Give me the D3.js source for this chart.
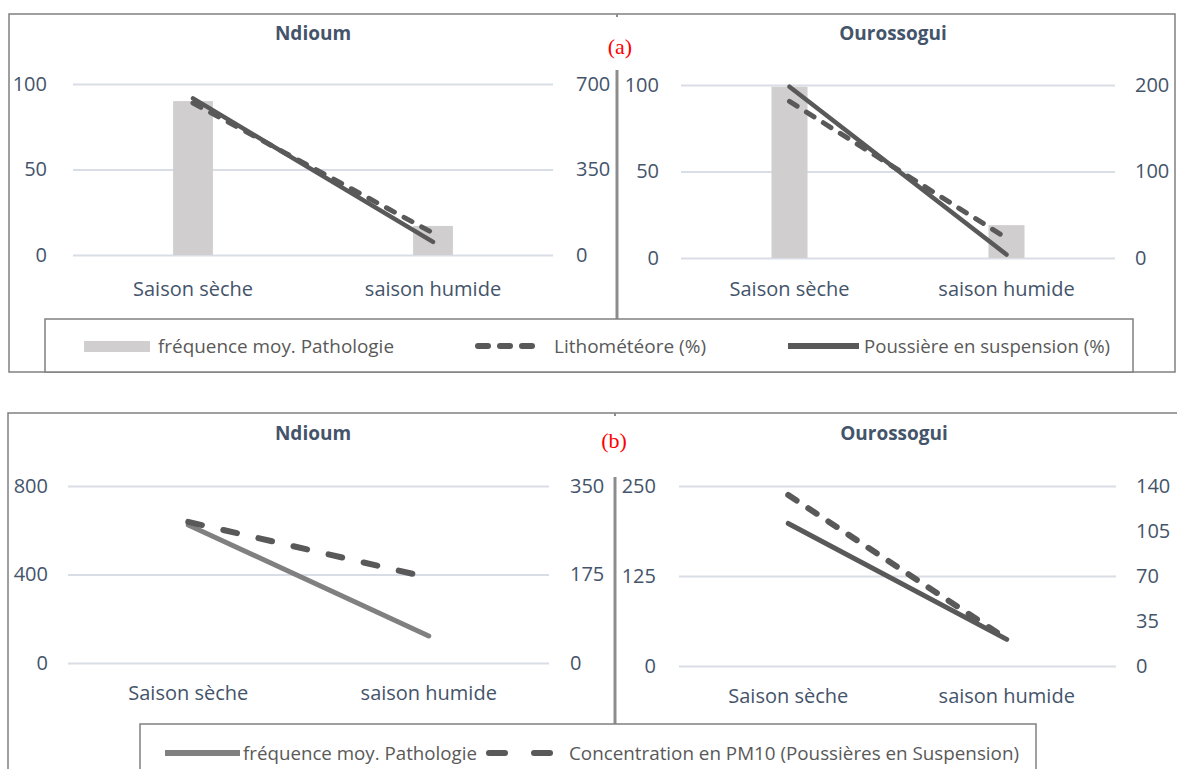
<!DOCTYPE html>
<html>
<head>
<meta charset="utf-8">
<script src="https://cdn.jsdelivr.net/npm/d3@7"></script>
<style>
  html, body { margin: 0; padding: 0; background: #fff; }
  svg { display: block; font-family: "Open Sans", sans-serif; }
</style>
</head>
<body>
<svg id="fig" width="1177" height="769"></svg>
<script>
// ---- data ----
const categories = ["Saison sèche", "saison humide"];

// (a) pathology frequency (bars, left axis) and dust indicators (lines, right axis)
const ndioumPathoA = [90, 17];
const ndioumLithoA = [622, 90];
const ndioumPoussA = [641, 54];
const ouroPathoA = [99, 19];
const ouroLithoA = [181, 23];
const ouroPoussA = [198, 4];

// (b) pathology frequency (left axis) and PM10 concentration (right axis)
const ndioumPathoB = [624, 122];
const ndioumPM10B = [279, 169];
const ouroPathoB = [198, 37];
const ouroPM10B = [133, 21];

// axis ticks
const ndioumLeftTicksA = [0, 50, 100];
const ndioumRightTicksA = [0, 350, 700];
const ouroLeftTicksA = [0, 50, 100];
const ouroRightTicksA = [0, 100, 200];
const ndioumLeftTicksB = [0, 400, 800];
const ndioumRightTicksB = [0, 175, 350];
const ouroLeftTicksB = [0, 125, 250];
const ouroRightTicksB = [0, 35, 70, 105, 140];

const titles = ["Ndioum", "Ourossogui"];
const legendA = ["fréquence moy. Pathologie", "Lithométéore (%)", "Poussière en suspension (%)"];
const legendB = ["fréquence moy. Pathologie", "Concentration en PM10 (Poussières en Suspension)"];

// ---- styles ----
const textColor = "#44546A";
const legendColor = "#595959";
const gridColor = "#D9DEE6";
const barColor = "#D0CECE";
const darkLine = "#595959";
const midLine = "#808080";
const frameColor = "#808080";
const tickSize = 20;

const svg = d3.select("#fig");
svg.append("rect").attr("width", 1177).attr("height", 769).attr("fill", "#fff");

function drawChart(o) {
  const g = svg.append("g");
  const x = d3.scaleBand().domain(categories).range([o.x0, o.x1]);
  const cx = c => x(c) + x.bandwidth() / 2;
  const yL = d3.scaleLinear().domain([0, o.leftTicks[o.leftTicks.length - 1]]).range([o.yb, o.yt]);
  const yR = d3.scaleLinear().domain([0, o.rightTicks[o.rightTicks.length - 1]]).range([o.yb, o.yt]);

  // gridlines
  g.append("g")
    .attr("transform", `translate(${o.x0},0)`)
    .call(d3.axisLeft(yL).tickValues(o.leftTicks).tickSize(-(o.x1 - o.x0)).tickFormat(""))
    .call(s => s.select(".domain").remove())
    .selectAll("line").attr("stroke", gridColor).attr("stroke-width", 2);

  // left tick labels
  g.append("g")
    .attr("transform", `translate(${o.leftLabelX},0)`)
    .call(d3.axisLeft(yL).tickValues(o.leftTicks).tickSize(0).tickPadding(0))
    .call(s => s.select(".domain").remove())
    .attr("font-size", null).attr("font-family", null)
    .selectAll("text").attr("fill", textColor).attr("font-size", tickSize);

  // right tick labels
  g.append("g")
    .attr("transform", `translate(${o.rightLabelX},0)`)
    .call(d3.axisRight(yR).tickValues(o.rightTicks).tickSize(0).tickPadding(0))
    .call(s => s.select(".domain").remove())
    .attr("font-size", null).attr("font-family", null)
    .selectAll("text").attr("fill", textColor).attr("font-size", tickSize);

  // category labels
  g.append("g")
    .attr("transform", `translate(0,${o.catY})`)
    .call(d3.axisBottom(x).tickSize(0).tickPadding(0))
    .call(s => s.select(".domain").remove())
    .attr("font-size", null).attr("font-family", null)
    .selectAll("text").attr("fill", textColor).attr("font-size", tickSize).attr("dy", "0.32em");

  // title
  g.append("text")
    .attr("x", o.titleX).attr("y", o.titleY)
    .attr("text-anchor", "middle").attr("dy", "0.35em")
    .attr("font-weight", "bold").attr("font-size", 19)
    .attr("fill", textColor)
    .text(o.title);

  // bars
  if (o.bars) {
    const bw = x.bandwidth() * 0.166;
    g.selectAll("rect.bar").data(categories.map((c, i) => ({ c, v: o.bars[i] })))
      .join("rect").attr("class", "bar")
      .attr("x", d => cx(d.c) - bw / 2)
      .attr("width", bw)
      .attr("y", d => yL(d.v))
      .attr("height", d => yL(0) - yL(d.v))
      .attr("fill", barColor);
  }

  // lines
  o.lines.forEach(l => {
    const scale = l.axis === "left" ? yL : yR;
    const line = d3.line().x(d => cx(d.c)).y(d => scale(d.v));
    g.append("path")
      .datum(categories.map((c, i) => ({ c, v: l.values[i] })))
      .attr("d", line)
      .attr("fill", "none")
      .attr("stroke", l.color)
      .attr("stroke-width", l.width)
      .attr("stroke-linecap", "round")
      .attr("stroke-dasharray", l.dash || null);
  });
}

// ---- panel (a) ----
svg.append("rect").attr("x", 9).attr("y", 14).attr("width", 1166).attr("height", 358)
  .attr("fill", "none").attr("stroke", frameColor).attr("stroke-width", 1.5);
svg.append("line").attr("x1", 617).attr("x2", 617).attr("y1", 70).attr("y2", 319)
  .attr("stroke", "#8c8c8c").attr("stroke-width", 3);
svg.append("line").attr("x1", 617).attr("x2", 617).attr("y1", 14).attr("y2", 17)
  .attr("stroke", "#8c8c8c").attr("stroke-width", 2);

drawChart({
  x0: 73, x1: 553, yb: 255, yt: 84,
  leftTicks: ndioumLeftTicksA, rightTicks: ndioumRightTicksA,
  leftLabelX: 47, rightLabelX: 576, catY: 290,
  title: titles[0], titleX: 313, titleY: 33,
  bars: ndioumPathoA,
  lines: [
    { values: ndioumLithoA, axis: "right", color: darkLine, width: 5, dash: "9,11" },
    { values: ndioumPoussA, axis: "right", color: darkLine, width: 4.5 }
  ]
});
drawChart({
  x0: 681, x1: 1115, yb: 258, yt: 85,
  leftTicks: ouroLeftTicksA, rightTicks: ouroRightTicksA,
  leftLabelX: 659, rightLabelX: 1135, catY: 290,
  title: titles[1], titleX: 893, titleY: 33,
  bars: ouroPathoA,
  lines: [
    { values: ouroLithoA, axis: "right", color: darkLine, width: 5, dash: "9,11" },
    { values: ouroPoussA, axis: "right", color: darkLine, width: 4.5 }
  ]
});

svg.append("text").attr("x", 620).attr("y", 46).attr("text-anchor", "middle").attr("dy", "0.35em")
  .attr("font-family", "'Liberation Serif', 'Times New Roman', serif").attr("font-size", 22)
  .attr("fill", "#ff0000").text("(a)");

// legend (a)
const legA = svg.append("g");
legA.append("rect").attr("x", 45).attr("y", 319).attr("width", 1088).attr("height", 53)
  .attr("fill", "#fff").attr("stroke", frameColor).attr("stroke-width", 1.5);
legA.append("rect").attr("x", 84).attr("y", 341).attr("width", 66).attr("height", 11).attr("fill", barColor);
legA.append("line").attr("x1", 478).attr("x2", 536).attr("y1", 346).attr("y2", 346)
  .attr("stroke", darkLine).attr("stroke-width", 6).attr("stroke-linecap", "round").attr("stroke-dasharray", "10,12");
legA.append("line").attr("x1", 788).attr("x2", 859).attr("y1", 346).attr("y2", 346)
  .attr("stroke", darkLine).attr("stroke-width", 6);
const legAText = [
  { x: 158, len: 236 },
  { x: 554, len: 152 },
  { x: 864, len: 246 }
];
legA.selectAll("text.leg").data(legendA).join("text").attr("class", "leg")
  .attr("x", (d, i) => legAText[i].x).attr("y", 346).attr("dy", "0.35em")
  .attr("font-size", 19).attr("fill", legendColor)
  .attr("textLength", (d, i) => legAText[i].len).attr("lengthAdjust", "spacingAndGlyphs")
  .text(d => d);

// ---- panel (b) ----
svg.append("path").attr("d", "M8,769V413H1177").attr("fill", "none")
  .attr("stroke", frameColor).attr("stroke-width", 1.5);
svg.append("line").attr("x1", 615).attr("x2", 615).attr("y1", 477).attr("y2", 724)
  .attr("stroke", "#8c8c8c").attr("stroke-width", 3);
svg.append("line").attr("x1", 615).attr("x2", 615).attr("y1", 413).attr("y2", 416)
  .attr("stroke", "#8c8c8c").attr("stroke-width", 2);

drawChart({
  x0: 68, x1: 549, yb: 663, yt: 486,
  leftTicks: ndioumLeftTicksB, rightTicks: ndioumRightTicksB,
  leftLabelX: 48, rightLabelX: 570, catY: 694,
  title: titles[0], titleX: 313, titleY: 433,
  lines: [
    { values: ndioumPathoB, axis: "left", color: midLine, width: 5 },
    { values: ndioumPM10B, axis: "right", color: darkLine, width: 6, dash: "14,22" }
  ]
});
drawChart({
  x0: 679, x1: 1116, yb: 666, yt: 486,
  leftTicks: ouroLeftTicksB, rightTicks: ouroRightTicksB,
  leftLabelX: 656, rightLabelX: 1136, catY: 697,
  title: titles[1], titleX: 894, titleY: 433,
  lines: [
    { values: ouroPathoB, axis: "left", color: darkLine, width: 5 },
    { values: ouroPM10B, axis: "right", color: darkLine, width: 6, dash: "10,14" }
  ]
});

svg.append("text").attr("x", 614).attr("y", 440).attr("text-anchor", "middle").attr("dy", "0.35em")
  .attr("font-family", "'Liberation Serif', 'Times New Roman', serif").attr("font-size", 22)
  .attr("fill", "#ff0000").text("(b)");

// legend (b)
const legB = svg.append("g");
legB.append("rect").attr("x", 140).attr("y", 724).attr("width", 896).attr("height", 60)
  .attr("fill", "#fff").attr("stroke", frameColor).attr("stroke-width", 1.5);
legB.append("line").attr("x1", 165).attr("x2", 240).attr("y1", 753).attr("y2", 753)
  .attr("stroke", midLine).attr("stroke-width", 6);
legB.append("line").attr("x1", 489).attr("x2", 552).attr("y1", 753).attr("y2", 753)
  .attr("stroke", darkLine).attr("stroke-width", 6).attr("stroke-linecap", "round").attr("stroke-dasharray", "16,29");
const legBText = [
  { x: 243, len: 234 },
  { x: 569, len: 450 }
];
legB.selectAll("text.leg").data(legendB).join("text").attr("class", "leg")
  .attr("x", (d, i) => legBText[i].x).attr("y", 753).attr("dy", "0.35em")
  .attr("font-size", 19).attr("fill", legendColor)
  .attr("textLength", (d, i) => legBText[i].len).attr("lengthAdjust", "spacingAndGlyphs")
  .text(d => d);
</script>
</body>
</html>
